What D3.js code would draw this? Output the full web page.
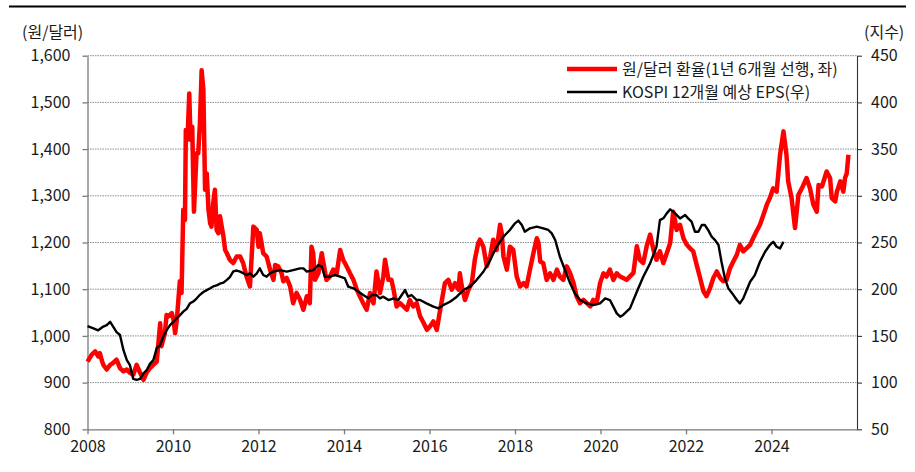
<!DOCTYPE html>
<html>
<head>
<meta charset="utf-8">
<script src="https://cdn.jsdelivr.net/npm/d3@7"></script>
<style>
  body { margin: 0; background: #fff; }
  svg { display: block; font-family: "Noto Sans CJK KR", "Noto Sans", sans-serif; }
</style>
</head>
<body>
<div id="fig-fx-eps"></div>
<script>
let figName = 'fig-fx-eps';

let width = 915;
let height = 472;
let margin = {top: 55.7, right: 58, bottom: 42.7, left: 87.5};

// 원/달러 환율 (1년 6개월 선행), 좌축
let fxDates = [
  2008.00, 2008.10, 2008.18, 2008.25, 2008.29, 2008.33, 2008.37, 2008.45, 2008.53, 2008.60,
  2008.68, 2008.76, 2008.84, 2008.92, 2008.99, 2009.07, 2009.15, 2009.23, 2009.31, 2009.38,
  2009.46, 2009.54, 2009.62, 2009.70, 2009.73, 2009.81, 2009.85, 2009.89, 2009.97, 2010.01,
  2010.05, 2010.09, 2010.16, 2010.20, 2010.24, 2010.28, 2010.30, 2010.34, 2010.38, 2010.41,
  2010.45, 2010.49, 2010.55, 2010.59, 2010.63, 2010.67, 2010.71, 2010.75, 2010.79, 2010.83,
  2010.87, 2010.90, 2010.94, 2010.98, 2011.02, 2011.06, 2011.10, 2011.14, 2011.18, 2011.22,
  2011.26, 2011.33, 2011.41, 2011.49, 2011.57, 2011.64, 2011.72, 2011.80, 2011.88, 2011.96,
  2012.00, 2012.03, 2012.07, 2012.11, 2012.19, 2012.27, 2012.35, 2012.39, 2012.46, 2012.54,
  2012.58, 2012.66, 2012.74, 2012.81, 2012.89, 2012.97, 2013.05, 2013.13, 2013.20, 2013.24,
  2013.28, 2013.32, 2013.40, 2013.48, 2013.52, 2013.59, 2013.67, 2013.75, 2013.83, 2013.91,
  2013.98, 2014.06, 2014.14, 2014.22, 2014.30, 2014.37, 2014.45, 2014.53, 2014.61, 2014.69,
  2014.76, 2014.84, 2014.92, 2014.96, 2015.04, 2015.11, 2015.16, 2015.23, 2015.31, 2015.39,
  2015.47, 2015.54, 2015.62, 2015.70, 2015.78, 2015.86, 2015.94, 2016.01, 2016.09, 2016.17,
  2016.25, 2016.36, 2016.44, 2016.52, 2016.60, 2016.68, 2016.71, 2016.75, 2016.83, 2016.91,
  2016.99, 2017.06, 2017.14, 2017.18, 2017.26, 2017.34, 2017.42, 2017.49, 2017.57, 2017.65,
  2017.69, 2017.73, 2017.81, 2017.88, 2017.96, 2018.04, 2018.12, 2018.20, 2018.27, 2018.35,
  2018.43, 2018.51, 2018.55, 2018.59, 2018.66, 2018.74, 2018.82, 2018.90, 2018.98, 2019.05,
  2019.13, 2019.21, 2019.29, 2019.37, 2019.44, 2019.52, 2019.60, 2019.68, 2019.76, 2019.83,
  2019.91, 2019.99, 2020.07, 2020.14, 2020.22, 2020.30, 2020.38, 2020.46, 2020.61, 2020.77,
  2020.85, 2020.92, 2021.00, 2021.08, 2021.16, 2021.24, 2021.31, 2021.39, 2021.47, 2021.55,
  2021.63, 2021.70, 2021.74, 2021.78, 2021.86, 2021.94, 2022.02, 2022.09, 2022.17, 2022.25,
  2022.33, 2022.41, 2022.48, 2022.56, 2022.64, 2022.72, 2022.80, 2022.87, 2022.95, 2023.03,
  2023.11, 2023.19, 2023.26, 2023.34, 2023.42, 2023.50, 2023.57, 2023.65, 2023.73, 2023.81,
  2023.89, 2023.96, 2024.04, 2024.12, 2024.20, 2024.28, 2024.35, 2024.39, 2024.47, 2024.55,
  2024.63, 2024.71, 2024.82, 2024.90, 2024.98, 2025.06, 2025.10, 2025.18, 2025.29, 2025.37,
  2025.41, 2025.49, 2025.53, 2025.61, 2025.68, 2025.72, 2025.76, 2025.80
];
let fxValues = [
  945, 960, 967, 956, 963, 949, 938, 928, 938, 942,
  949, 931, 924, 928, 921, 917, 938, 921, 906, 921,
  931, 938, 945, 1027, 978, 1006, 1045, 1042, 1049, 1035,
  1006, 1035, 1117, 1092, 1270, 1248, 1441, 1420, 1519, 1420,
  1448, 1266, 1391, 1391, 1455, 1569, 1527, 1313, 1348, 1270,
  1241, 1234, 1284, 1313, 1227, 1220, 1256, 1234, 1213, 1184,
  1177, 1163, 1156, 1170, 1170, 1156, 1127, 1106, 1234, 1227,
  1191, 1220, 1199, 1177, 1170, 1142, 1120, 1152, 1149, 1134,
  1117, 1124, 1106, 1070, 1092, 1078, 1056, 1085, 1070, 1191,
  1177, 1120, 1134, 1177, 1156, 1120, 1127, 1142, 1134, 1184,
  1163, 1149, 1134, 1120, 1099, 1085, 1070, 1056, 1092, 1070,
  1138, 1092, 1127, 1163, 1120, 1120, 1099, 1063, 1070, 1063,
  1056, 1077, 1063, 1070, 1042, 1028, 1013, 1020, 1031, 1013,
  1056, 1113, 1120, 1099, 1113, 1099, 1134, 1109, 1077, 1099,
  1113, 1163, 1199, 1206, 1191, 1149, 1170, 1206, 1184, 1238,
  1220, 1170, 1142, 1191, 1184, 1127, 1106, 1113, 1106, 1142,
  1177, 1209, 1199, 1159, 1156, 1120, 1134, 1120, 1142, 1127,
  1120, 1149, 1134, 1113, 1085, 1070, 1077, 1070, 1063, 1077,
  1070, 1113, 1134, 1127, 1142, 1120, 1134, 1127, 1120, 1135,
  1192, 1163, 1156, 1192, 1217, 1184, 1163, 1181, 1156, 1177,
  1199, 1266, 1249, 1227, 1238, 1209, 1195, 1188, 1181, 1152,
  1124, 1095, 1085, 1102, 1124, 1138, 1124, 1117, 1120, 1145,
  1160, 1174, 1195, 1181, 1188, 1195, 1209, 1224, 1238, 1259,
  1281, 1295, 1316, 1309, 1388, 1438, 1388, 1331, 1295, 1231,
  1302, 1316, 1338, 1316, 1281, 1266, 1323, 1320, 1352, 1338,
  1295, 1288, 1309, 1331, 1309, 1338, 1348, 1388
];

// KOSPI 12개월 예상 EPS, 우축
let epsDates = [
  2008.00, 2008.14, 2008.25, 2008.37, 2008.45, 2008.53, 2008.60, 2008.68, 2008.76, 2008.84,
  2008.92, 2008.99, 2009.07, 2009.15, 2009.23, 2009.31, 2009.38, 2009.46, 2009.54, 2009.62,
  2009.70, 2009.77, 2009.85, 2009.93, 2010.01, 2010.09, 2010.16, 2010.24, 2010.32, 2010.40,
  2010.48, 2010.55, 2010.63, 2010.71, 2010.79, 2010.87, 2010.94, 2011.02, 2011.10, 2011.18,
  2011.26, 2011.33, 2011.41, 2011.49, 2011.57, 2011.72, 2011.80, 2011.88, 2011.96, 2012.03,
  2012.11, 2012.19, 2012.27, 2012.35, 2012.50, 2012.66, 2012.81, 2012.97, 2013.05, 2013.13,
  2013.28, 2013.40, 2013.48, 2013.55, 2013.67, 2013.79, 2013.91, 2014.02, 2014.10, 2014.22,
  2014.34, 2014.45, 2014.57, 2014.65, 2014.76, 2014.84, 2014.92, 2015.04, 2015.16, 2015.27,
  2015.35, 2015.43, 2015.50, 2015.58, 2015.70, 2015.78, 2015.93, 2016.09, 2016.21, 2016.32,
  2016.48, 2016.64, 2016.79, 2016.95, 2017.10, 2017.26, 2017.42, 2017.57, 2017.73, 2017.88,
  2018.00, 2018.08, 2018.16, 2018.23, 2018.35, 2018.51, 2018.66, 2018.78, 2018.86, 2018.94,
  2019.05, 2019.17, 2019.29, 2019.40, 2019.52, 2019.68, 2019.83, 2019.99, 2020.11, 2020.22,
  2020.30, 2020.38, 2020.46, 2020.53, 2020.69, 2020.85, 2021.00, 2021.16, 2021.31, 2021.39,
  2021.47, 2021.55, 2021.63, 2021.70, 2021.78, 2021.86, 2021.98, 2022.05, 2022.13, 2022.21,
  2022.29, 2022.37, 2022.44, 2022.52, 2022.60, 2022.68, 2022.76, 2022.83, 2022.91, 2022.99,
  2023.11, 2023.19, 2023.26, 2023.34, 2023.42, 2023.50, 2023.61, 2023.73, 2023.85, 2023.96,
  2024.04, 2024.12, 2024.20, 2024.28
];
let epsValues = [
  160.5, 158, 156, 160, 161.5, 165, 160, 154, 151, 135,
  124, 119, 104, 103, 104, 110, 113, 120, 124, 137,
  140, 149, 156, 161.5, 165, 169, 172, 176, 179, 185,
  187, 190, 194, 197, 199, 201, 203, 204, 206, 207,
  210, 213, 219, 220, 218.8, 215.2, 217, 213.4, 217, 222.3,
  215.2, 213.4, 217, 218.8, 220.5, 218.8, 220.5, 222.3, 222.3, 218.8,
  220.5, 225.9, 224.1, 213.4, 213.4, 215.2, 213.4, 211.6, 202.7, 200.9,
  197.3, 193.8, 190.2, 193.8, 193.8, 190.2, 192, 188.4, 190.2, 188.4,
  193.8, 199.1, 192, 193.8, 188.4, 188.4, 184.8, 181.3, 179.5, 183,
  186.6, 192, 199.1, 202.7, 209.8, 218.7, 231.2, 245.5, 256.2, 263.4,
  270.5, 273.4, 268.7, 261.6, 265.2, 267, 265.2, 263.4, 259.8, 252.7,
  234.8, 220.5, 206.3, 195.5, 188.4, 184.8, 183, 184.8, 190.2, 188.4,
  181.3, 174.1, 170.6, 172.4, 179.5, 197.3, 213.4, 227.7, 245.5, 274,
  275.9, 281.2, 285.5, 283, 279.5, 275.8, 279.4, 275.8, 272.3, 261.5,
  261.5, 268.7, 268.7, 263.3, 256.2, 252.6, 247.3, 229.4, 211.6, 200.9,
  193.7, 188.4, 184.8, 190.2, 199.1, 208, 215.1, 229.4, 240.1, 247.3,
  250.8, 245.5, 243.7, 250.8
];

let xTicks = [2008, 2010, 2012, 2014, 2016, 2018, 2020, 2022, 2024];
let leftTicks = [800, 900, 1000, 1100, 1200, 1300, 1400, 1500, 1600];
let rightTicks = [50, 100, 150, 200, 250, 300, 350, 400, 450];

let legendLabels = ['원/달러 환율(1년 6개월 선행, 좌)', 'KOSPI 12개월 예상 EPS(우)'];
let seriesColors = ['#ff0000', '#000000'];

let plot_width = width - margin.left - margin.right;
let plot_height = height - margin.top - margin.bottom;

let svg = d3.select(`div#${figName}`).append('svg')
    .attr('width', width)
    .attr('height', height);

// top rule
svg.append('rect')
    .attr('x', 9).attr('y', 5.5)
    .attr('width', 897).attr('height', 2)
    .attr('fill', '#000');

let plot = svg.append('g')
    .attr('transform', `translate(${margin.left}, ${margin.top})`);

let x = d3.scaleLinear().domain([2008, 2026]).range([0, plot_width]);
let yL = d3.scaleLinear().domain([800, 1600]).range([plot_height, 0]);
let yR = d3.scaleLinear().domain([50, 450]).range([plot_height, 0]);

// dotted gridlines
plot.append('g')
    .selectAll('line')
    .data(leftTicks.filter(d => d > 800))
    .join('line')
      .attr('x1', 0).attr('x2', plot_width)
      .attr('y1', d => yL(d)).attr('y2', d => yL(d))
      .attr('stroke', '#8c8c8c')
      .attr('stroke-width', 1)
      .attr('stroke-dasharray', '1.5,1');

let fontSize = '16px';
let textColor = '#1a1a1a';

let leftAxis = plot.append('g')
    .call(d3.axisLeft(yL).tickValues(leftTicks).tickFormat(d3.format(',')).tickSize(5).tickSizeOuter(0).tickPadding(12));

let rightAxis = plot.append('g')
    .attr('transform', `translate(${plot_width},0)`)
    .call(d3.axisRight(yR).tickValues(rightTicks).tickSize(5).tickSizeOuter(0).tickPadding(9));

let bottomAxis = plot.append('g')
    .attr('transform', `translate(0,${plot_height})`)
    .call(d3.axisBottom(x).tickValues(xTicks).tickFormat(d3.format('d')).tickSize(5).tickSizeOuter(0).tickPadding(6));

[leftAxis, rightAxis, bottomAxis].forEach(ax => {
    ax.selectAll('text')
        .attr('font-size', fontSize)
        .attr('font-family', '"Noto Sans CJK KR", "Noto Sans", sans-serif')
        .attr('fill', textColor);
});
leftAxis.selectAll('path, line').attr('stroke', '#7a7a7a').attr('stroke-width', 1.3);
bottomAxis.selectAll('path, line').attr('stroke', '#7a7a7a').attr('stroke-width', 1.3);
rightAxis.selectAll('path, line').attr('stroke', '#333').attr('stroke-width', 1.1);

// series
let fxData = fxDates.map((d, i) => ({t: d, v: fxValues[i]}));
let epsData = epsDates.map((d, i) => ({t: d, v: epsValues[i]}));

plot.append('path')
    .datum(fxData)
    .attr('fill', 'none')
    .attr('stroke', seriesColors[0])
    .attr('stroke-width', 4.5)
    .attr('stroke-linejoin', 'round')
    .attr('d', d3.line().x(d => x(d.t)).y(d => yL(d.v)));

plot.append('path')
    .datum(epsData)
    .attr('fill', 'none')
    .attr('stroke', seriesColors[1])
    .attr('stroke-width', 2.4)
    .attr('stroke-linejoin', 'round')
    .attr('d', d3.line().x(d => x(d.t)).y(d => yR(d.v)));

// axis unit labels
svg.append('text')
    .attr('x', 22).attr('y', 38)
    .attr('font-size', fontSize)
    .attr('fill', textColor)
    .text('(원/달러)');

svg.append('text')
    .attr('x', 864).attr('y', 38)
    .attr('font-size', fontSize)
    .attr('fill', textColor)
    .text('(지수)');

// legend
let legend = svg.append('g');
legendLabels.forEach((label, i) => {
    let ly = 69 + i * 23;
    legend.append('line')
        .attr('x1', 567).attr('x2', 617)
        .attr('y1', ly).attr('y2', ly)
        .attr('stroke', seriesColors[i])
        .attr('stroke-width', i === 0 ? 4.5 : 2.4);
    legend.append('text')
        .attr('x', 622).attr('y', ly)
        .attr('dy', '0.35em')
        .attr('font-size', fontSize)
        .attr('fill', textColor)
        .text(label);
});
</script>
</body>
</html>
